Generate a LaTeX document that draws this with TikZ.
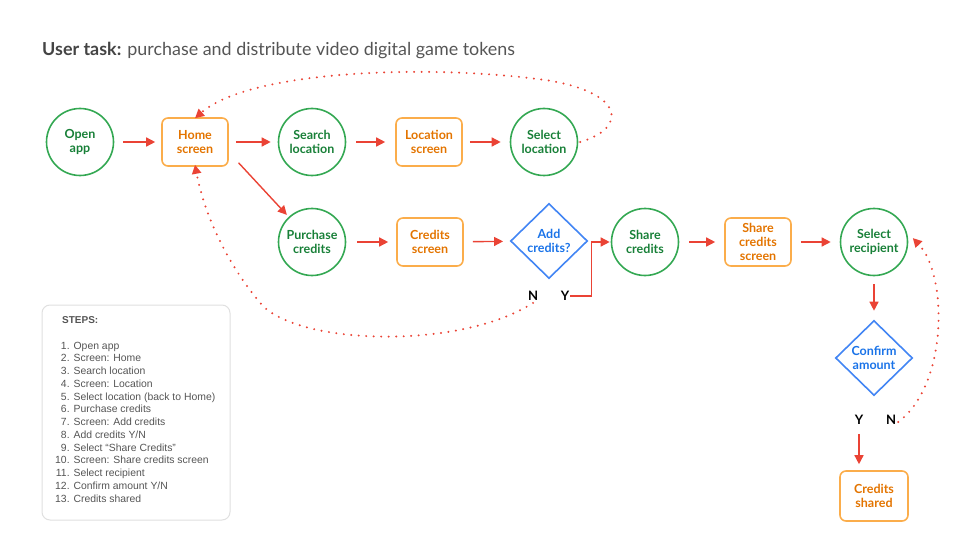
\documentclass[tikz,border=0pt]{standalone}
\usepackage{fontspec}
\setmainfont{Lato}
\newfontfamily\stepsfont{Liberation Sans}
\usetikzlibrary{shapes.geometric,arrows.meta,calc}
\definecolor{gred}{HTML}{EA4335}
\definecolor{ggreen}{HTML}{34A853}
\definecolor{gdkgreen}{HTML}{188038}
\definecolor{gorange}{HTML}{FBAD4B}
\definecolor{gdkorange}{HTML}{E37400}
\definecolor{gblue}{HTML}{4285F4}
\definecolor{gdkblue}{HTML}{1A73E8}
\definecolor{txtgray}{HTML}{555555}
\definecolor{titlegray}{HTML}{444444}
\tikzset{
  circnode/.style={circle,draw=ggreen,line width=1.6pt,minimum size=67pt,inner sep=0pt,
    text=gdkgreen,font=\fontsize{12.5}{14}\selectfont\bfseries,align=center},
  scrnode/.style={rectangle,rounded corners=6pt,draw=gorange,line width=1.6pt,minimum width=66pt,
    minimum height=48pt,inner sep=0pt,text=gdkorange,font=\fontsize{12.5}{14}\selectfont\bfseries,align=center},
  dianode/.style={diamond,draw=gblue,line width=1.6pt,minimum width=77pt,minimum height=75pt,inner sep=-3pt,
    text=gdkblue,font=\fontsize{12.5}{14}\selectfont\bfseries,align=center},
  yn/.style={font=\fontsize{13}{15}\selectfont\bfseries,text=black,inner sep=1pt},
  arr/.style={draw=gred,line width=1.4pt,-{Triangle[length=9pt,width=9pt]}},
  dotarr/.style={draw=gred,line width=2.2pt,dash pattern=on 0pt off 7.5pt,line cap=round,
    -{Triangle[length=9pt,width=9pt]}},
}
\begin{document}
\begin{tikzpicture}[x=1pt,y=-1pt]
\useasboundingbox (0,0) rectangle (960,540);
% title
\node[anchor=base west,inner sep=0pt,font=\fontsize{17.9}{21}\selectfont,text=txtgray] (title) at (42,56)
  {\textcolor{titlegray}{\textbf{User task:}} purchase and distribute video digital game tokens};
% nodes
\node[circnode] (open) at (80,142) {Open\\app};
\node[scrnode] (home) at (195,142) {Home\\screen};
\node[circnode] (search) at (312,142) {Search\\location};
\node[scrnode] (locscr) at (429,142) {Location\\screen};
\node[circnode] (selloc) at (544,142) {Select\\location};
\node[circnode] (purch) at (312,242) {Purchase\\credits};
\node[scrnode] (credscr) at (430,242) {Credits\\screen};
\node[dianode] (addc) at (549,241) {Add\\credits?};
\node[circnode] (share) at (645,242) {Share\\credits};
\node[scrnode] (sharescr) at (758,242) {Share\\credits\\screen};
\node[circnode] (recip) at (874,242) {Select\\recipient};
\node[dianode] (confirm) at (874,358) {Confirm\\amount};
\node[scrnode,minimum width=68pt,minimum height=50pt] (shared) at (874,496) {Credits\\shared};
\node[yn] (nA) at (533,296) {N};
\node[yn] (yA) at (565,296) {Y};
\node[yn] (yB) at (859,420) {Y};
\node[yn] (nB) at (891,420) {N};
% solid arrows
\draw[arr,shorten <=9pt,shorten >=6pt] (open) -- (home);
\draw[arr,shorten <=7pt,shorten >=7pt] (home) -- (search);
\draw[arr,shorten <=10pt,shorten >=10pt] (search) -- (locscr);
\draw[arr,shorten <=7pt,shorten >=9pt] (locscr) -- (selloc);
\draw[arr,shorten <=4pt,shorten >=3pt] (home.south east) ++(7,-7) coordinate (hp) -- ($(purch)!34pt!(hp)$) ;
\draw[arr,shorten <=11pt,shorten >=8pt] (purch) -- (credscr);
\draw[arr,shorten <=9pt,shorten >=7pt] (credscr) -- (addc);
\draw[arr,shorten <=10pt,shorten >=9pt] (share) -- (sharescr);
\draw[arr,shorten <=9pt,shorten >=9pt] (sharescr) -- (recip);
\draw[arr,shorten <=8pt,shorten >=9pt] (recip) -- (confirm);
\draw[arr,shorten <=8pt,shorten >=6pt] (yB) -- (yB |- shared.north);
\draw[arr] (yA.east) -- ++(21,0) |- ([xshift=-1pt]share.west);
% dotted loops
\draw[dotarr] ([xshift=2pt]selloc.east) .. controls (628,128) and (625,92) .. (545,80)
   .. controls (430,64) and (250,70) .. ([yshift=-1pt]home.north);
\draw[dotarr] ([yshift=-1pt]nA.south) .. controls (460,350) and (300,345) .. (262,305)
   .. controls (230,268) and (205,218) .. ([yshift=2pt]home.south);
\draw[dotarr] ([xshift=1pt,yshift=-2pt]nB.east) .. controls (948,385) and (948,275) .. ([xshift=5pt,yshift=-2pt]recip.10);
% steps box
\draw[draw=black!12,line width=1pt,rounded corners=8pt,fill=white] (42,305) rectangle (230,520);
\node[anchor=north west,inner sep=0pt,font=\stepsfont\bfseries\fontsize{10}{12}\selectfont,text=txtgray] (stepsh) at (62,316) {STEPS:};
\node[anchor=north west,inner sep=0pt,font=\stepsfont\fontsize{10.4}{12.75}\selectfont,text=txtgray] (steps) at (55,340)
{\begin{tabular}{@{}r@{\hspace{4pt}}l@{}}
1.&Open app\\
2.&Screen: Home\\
3.&Search location\\
4.&Screen: Location\\
5.&Select location (back to Home)\\
6.&Purchase credits\\
7.&Screen: Add credits\\
8.&Add credits Y/N\\
9.&Select “Share Credits”\\
10.&Screen: Share credits screen\\
11.&Select recipient\\
12.&Confirm amount Y/N\\
13.&Credits shared
\end{tabular}};
\end{tikzpicture}
\end{document}
